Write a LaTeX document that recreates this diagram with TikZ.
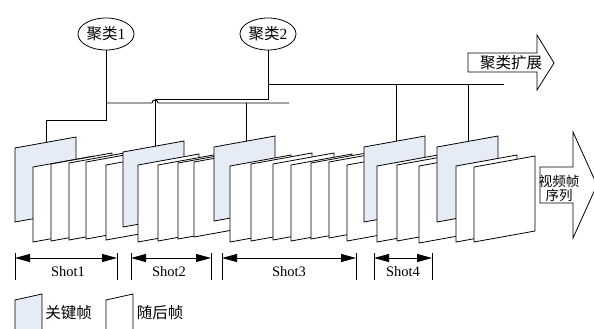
\documentclass[tikz,border=0pt]{standalone}
\usepackage{fontspec}
\setmainfont{Liberation Serif}
\newfontfamily\cjk{Noto Sans CJK SC}
\usetikzlibrary{shapes.geometric,arrows.meta}
\definecolor{keyblue}{RGB}{230,236,246}
\tikzset{
  frm/.style={draw=black, line width=0.8pt, fill=white, line join=miter},
  keyfrm/.style={frm, fill=keyblue},
  conn/.style={draw=black, line width=0.9pt},
  clus/.style={ellipse, draw=black, line width=0.8pt, minimum width=56pt, minimum height=32pt, inner sep=0pt, font=\fontsize{15.5}{15.5}\selectfont},
  tick/.style={draw=black, line width=0.8pt},
  shotarr/.style={draw=black, line width=0.9pt, {Triangle[length=15pt,width=8pt]}-{Triangle[length=15pt,width=8pt]}},
  shotlbl/.style={font=\fontsize{14.5}{14.5}\selectfont, inner sep=0pt},
  bigarr/.style={draw=black, line width=0.8pt, fill=white, line join=miter},
  cjklbl/.style={font=\cjk\fontsize{15.5}{15.5}\selectfont, inner sep=0pt}
}
% \vframe{style}{x}{top}{bottom}
\newcommand{\vframe}[4]{\path[#1] (#2,#3) -- ++(61,-11) -- (#2+61,#4-11) -- (#2,#4) -- cycle;}
\begin{document}
\begin{tikzpicture}[x=1pt,y=-1pt]
\useasboundingbox (0,0) rectangle (594,329);
\begin{scope}
\clip (0,0) rectangle (594,329);
% frames
\vframe{keyfrm}{15}{148}{222}
\vframe{frm}{33}{167}{242}
\vframe{frm}{51}{164}{241}
\vframe{frm}{69}{163}{240}
\vframe{frm}{86}{162}{239}
\vframe{frm}{106}{165}{240}
\vframe{keyfrm}{123}{152}{227}
\vframe{frm}{138}{165}{242}
\vframe{frm}{158}{165}{241}
\vframe{frm}{178}{163}{239}
\vframe{frm}{194}{162}{237}
\vframe{keyfrm}{214}{147}{221}
\vframe{frm}{230}{166}{242}
\vframe{frm}{251}{164}{241}
\vframe{frm}{273}{164}{240}
\vframe{frm}{291}{165}{241}
\vframe{frm}{311}{163}{239}
\vframe{frm}{329}{162}{238}
\vframe{frm}{347}{165}{241}
\vframe{keyfrm}{364}{147}{222}
\vframe{frm}{377}{166}{242}
\vframe{frm}{397}{165}{241}
\vframe{frm}{419}{166}{243}
\vframe{keyfrm}{437}{147}{222}
\vframe{frm}{456}{166}{242}
\vframe{frm}{474}{167}{242}

% cluster nodes
\node[clus] (e1) at (106,34) {{\cjk 聚类}1};
\node[clus] (e2) at (268,34) {{\cjk 聚类}2};

% attachment coordinates on key frames (top edges)
\coordinate (k1t) at (46,142.4);
\coordinate (k2t) at (155,146.2);
\coordinate (k3t) at (246,141.2);
\coordinate (k4t) at (396,141.2);
\coordinate (k5t) at (468,141.4);
\coordinate (b1) at (106,120);
\coordinate (b1l) at (46,120);
\coordinate (lowL) at (106,103);
\coordinate (lowR) at (289,103);
\coordinate (hopL) at (152,103);
\coordinate (up2) at (268,99);
\coordinate (up2l) at (155,99);
\coordinate (hiL) at (268,84);
\coordinate (hiR) at (504,84);
\coordinate (j3) at (246,103);
\coordinate (j4) at (396,84);
\coordinate (j5) at (468,84);

% connectors
\draw[conn] (e1.south) -- (b1) -- (b1l) -- (k1t);
\draw[conn] (lowL) -- (hopL) arc (180:360:3) -- (lowR);
\draw[conn] (e2.south) -- (up2) -- (up2l) -- (k2t);
\draw[conn] (hiL) -- (hiR);
\draw[conn] (j3) -- (k3t);
\draw[conn] (j4) -- (k4t);
\draw[conn] (j5) -- (k5t);

% arrow: cluster expansion
\draw[bigarr] (468,53) -- (537,53) -- (537,35) -- (554,63) -- (537,90) -- (537,72) -- (468,72) -- cycle;
\node[cjklbl] (expand) at (511,62.5) {聚类扩展};

% arrow: video frame sequence
\draw[bigarr] (540,167) -- (573,167) -- (573,132) -- (597,185) -- (573,238) -- (573,203) -- (540,203) -- cycle;
\node[cjklbl, font=\cjk\fontsize{13.5}{14}\selectfont, align=center] (vseq) at (559,188.5) {视频帧\\序列};

% shot brackets
\coordinate (t1a) at (15,253); \coordinate (t1b) at (15,280);
\coordinate (t2a) at (117,253); \coordinate (t2b) at (117,280);
\coordinate (t3a) at (131,253); \coordinate (t3b) at (131,280);
\coordinate (t4a) at (211,253); \coordinate (t4b) at (211,280);
\coordinate (t5a) at (222,253); \coordinate (t5b) at (222,280);
\coordinate (t6a) at (356,253); \coordinate (t6b) at (356,280);
\coordinate (t7a) at (374,253); \coordinate (t7b) at (374,280);
\coordinate (t8a) at (432,253); \coordinate (t8b) at (432,280);
\foreach \i in {1,...,8} {\draw[tick] (t\i a) -- (t\i b);}
\coordinate (s1l) at (15,258); \coordinate (s1r) at (117,258);
\coordinate (s2l) at (131,258); \coordinate (s2r) at (211,258);
\coordinate (s3l) at (222,258); \coordinate (s3r) at (356,258);
\coordinate (s4l) at (374,258); \coordinate (s4r) at (432,258);
\draw[shotarr] (s1l) -- (s1r);
\draw[shotarr] (s2l) -- (s2r);
\draw[shotarr] (s3l) -- (s3r);
\draw[shotarr] (s4l) -- (s4r);
\node[shotlbl] (shot1) at (68,272) {Shot1};
\node[shotlbl] (shot2) at (169,272) {Shot2};
\node[shotlbl] (shot3) at (289,272) {Shot3};
\node[shotlbl] (shot4) at (403,272) {Shot4};

% legend
\path[keyfrm] (15,300) -- (42,294) -- (42,336) -- (15,342) -- cycle;
\node[cjklbl] (lkey) at (68.5,313) {关键帧};
\path[frm] (106,300) -- (133,294) -- (133,336) -- (106,342) -- cycle;
\node[cjklbl] (lfol) at (160,313) {随后帧};
\end{scope}
\end{tikzpicture}
\end{document}
